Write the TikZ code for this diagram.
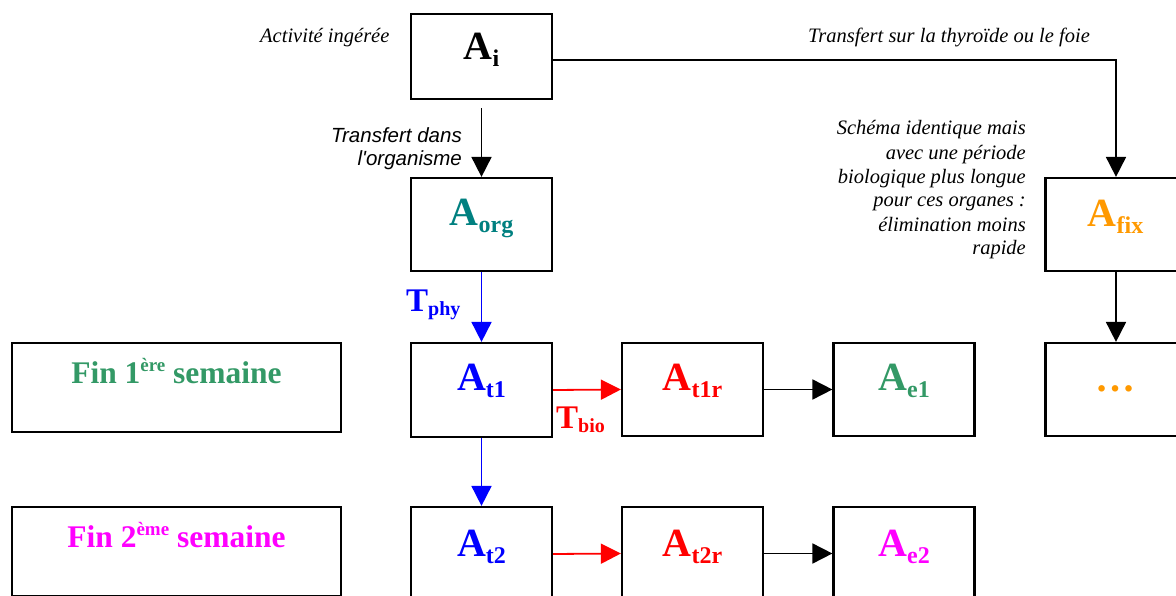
\documentclass[tikz,border=0pt]{standalone}
\usepackage{fontspec}
\setmainfont{Liberation Serif}
\newfontfamily\arialf[Ligatures=TeXOff]{Liberation Sans}
\usetikzlibrary{arrows.meta}
\definecolor{cteal}{HTML}{008080}
\definecolor{cgreen}{HTML}{339966}
\definecolor{corange}{HTML}{FF9900}
\definecolor{cmag}{HTML}{FF00FF}
\newcommand{\Aname}[1]{{\fontsize{40}{40}\selectfont A}\raisebox{-7pt}{\fontsize{24}{24}\selectfont #1}}
\newcommand{\Tname}[1]{{\fontsize{33}{33}\selectfont T}\raisebox{-4pt}{\fontsize{20}{20}\selectfont #1}}
\newcommand{\Finname}[2]{\fontsize{31.5}{36}\selectfont Fin #1\raisebox{12pt}{\fontsize{19}{19}\selectfont #2} semaine}
\begin{document}
\begin{tikzpicture}[x=1pt,y=-1pt,
 box/.style={draw=black,line width=2.2pt,minimum width=141pt,inner sep=0pt},
 lab/.style={anchor=base,inner sep=0pt,font=\bfseries},
 arr/.style={line width=1.8pt,-{Triangle[length=20pt,width=20pt]}},
 note/.style={font=\itshape\fontsize{20.5}{24}\selectfont, inner sep=0pt}
]
\useasboundingbox (0,0) rectangle (1176,596);
\clip (0,0) rectangle (1176,596);
% boxes
\node[box,minimum height=85pt] (ai) at (481.5,56.5) {};
\node[box,minimum height=93pt] (aorg) at (481.5,224.5) {};
\node[box,minimum height=94pt] (at1) at (481.5,390) {};
\node[box,minimum height=94pt] (at2) at (481.5,554) {};
\node[box,minimum height=93pt] (at1r) at (692.5,389.5) {};
\node[box,minimum height=93pt] (at2r) at (692.5,553.5) {};
\node[box,minimum height=93pt] (ae1) at (904,389.5) {};
\node[box,minimum height=93pt] (ae2) at (904,553.5) {};
\node[box,minimum height=89pt,minimum width=329pt] (fin1) at (176.5,387.5) {};
\node[box,minimum height=89pt,minimum width=329pt] (fin2) at (176.5,551.5) {};
\node[box,minimum height=93pt] (afix) at (1116,224.5) {};
\node[box,minimum height=93pt] (dots) at (1116,389.5) {};
% box texts
\node[lab] (tai) at (481.5,60) {\Aname{i}};
\node[lab,text=cteal] (taorg) at (481.5,226) {\Aname{org}};
\node[lab,text=blue] (tat1) at (481.5,390) {\Aname{t1}};
\node[lab,text=blue] (tat2) at (481.5,556) {\Aname{t2}};
\node[lab,text=red] (tat1r) at (692.5,390) {\Aname{t1r}};
\node[lab,text=red] (tat2r) at (692.5,556) {\Aname{t2r}};
\node[lab,text=cgreen] (tae1) at (904,390) {\Aname{e1}};
\node[lab,text=cmag] (tae2) at (904,556) {\Aname{e2}};
\node[lab,text=corange] (tafix) at (1115.5,227) {\Aname{fix}};
\node[lab,text=corange] (tdots) at (1115.5,391) {\fontsize{40}{40}\selectfont …};
\node[lab,text=cgreen] (tfin1) at (176.5,383) {\Finname{1}{ère}};
\node[lab,text=cmag] (tfin2) at (176.5,547) {\Finname{2}{ème}};
% connectors
\draw[arr] ([yshift=-8pt]ai.south) -- (aorg.north);
\draw[arr] ([yshift=-3.5pt]ai.east) -| (afix.north);
\draw[arr] (afix.south) -- (dots.north);
\draw[arr,blue] (aorg.south) -- (at1.north);
\draw[arr,blue] (at1.south) -- (at2.north);
\draw[arr,red] (at1.east) -- (at1r.west);
\draw[arr,red] (at2.east) -- (at2r.west);
\draw[arr] (at1r.east) -- (ae1.west);
\draw[arr] (at2r.east) -- (ae2.west);
% labels
\node[lab,anchor=base west,text=blue] (tphy) at (406,312) {\Tname{phy}};
\node[lab,anchor=base west,text=red] (tbio) at (556,428) {\Tname{bio}};
\node[note,anchor=base west] (activ) at (260,43) {Activité ingérée};
\node[note,anchor=base west] (transthy) at (808,43) {Transfert sur la thyroïde ou le foie};
\node[note,font=\arialf\itshape\fontsize{20.5}{23.5}\selectfont,align=right,anchor=base east] (transorg) at (462,166) {Transfert dans\\l'organisme};
\node[note,align=right,anchor=base east] (schema) at (1026,255) {Schéma identique mais\\avec une période\\biologique plus longue\\pour ces organes :\\élimination moins\\rapide};
\end{tikzpicture}
\end{document}
